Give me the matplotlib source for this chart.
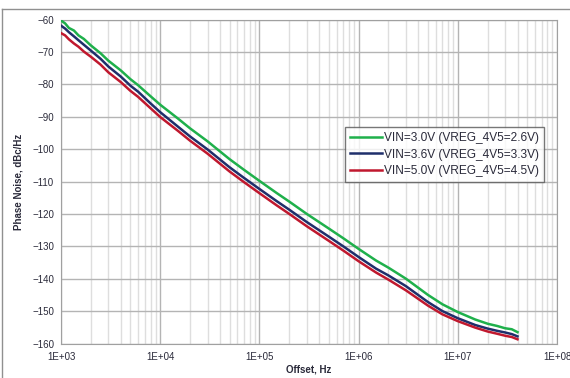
import numpy as np
import matplotlib
matplotlib.use("Agg")
import matplotlib.pyplot as plt
from matplotlib.ticker import FixedLocator, FuncFormatter, LogLocator, NullFormatter
from matplotlib.lines import Line2D

plt.rcParams['font.family'] = ['Liberation Sans', 'DejaVu Sans']

# Offset frequencies (Hz)
freq = [1e3, 1.1e3, 1.2e3, 1.35e3, 1.5e3, 1.7e3, 2e3, 2.5e3, 3e3, 4e3, 5e3, 6e3, 8e3,
        1e4, 1.5e4, 2e4, 3e4, 5e4, 7e4,
        1e5, 1.5e5, 2e5, 3e5, 5e5, 7e5,
        1e6, 1.5e6, 2e6, 3e6, 5e6, 7e6,
        1e7, 1.5e7, 2e7, 2.5e7, 3e7, 3.5e7, 4e7]

# Phase noise (dBc/Hz)
pn_3v0 = [-60.3, -61.2, -62.6, -63.4, -64.9, -66.0, -68.0, -70.4, -72.7, -75.7, -78.4, -80.3, -83.7,
          -86.3, -90.5, -93.6, -97.6, -103.1, -106.4,
          -109.8, -113.6, -116.2, -120.0, -124.5, -127.5,
          -130.8, -134.4, -136.6, -140.0, -145.0, -147.9,
          -150.3, -152.6, -153.9, -154.6, -155.3, -155.6, -156.5]
pn_3v6 = [-61.9, -62.8, -63.9, -65.2, -66.4, -67.8, -69.6, -72.1, -74.5, -77.6, -80.4, -82.3, -85.9,
          -88.6, -93.0, -96.1, -100.1, -105.6, -108.9,
          -112.3, -116.1, -118.7, -122.5, -127.0, -130.0,
          -133.3, -136.9, -139.0, -142.3, -147.2, -150.0,
          -152.2, -154.3, -155.4, -156.1, -156.6, -157.1, -157.8]
pn_5v0 = [-64.2, -64.9, -66.1, -67.4, -68.4, -69.9, -71.5, -73.9, -76.3, -79.3, -82.0, -83.9, -87.4,
          -90.1, -94.3, -97.4, -101.4, -106.9, -110.2,
          -113.6, -117.4, -120.0, -123.8, -128.3, -131.3,
          -134.6, -138.1, -140.3, -143.6, -148.3, -151.0,
          -153.1, -155.1, -156.3, -157.0, -157.6, -158.0, -158.7]

labels = ["VIN=3.0V (VREG_4V5=2.6V)",
          "VIN=3.6V (VREG_4V5=3.3V)",
          "VIN=5.0V (VREG_4V5=4.5V)"]
colors = ["#1fb04b", "#1f2f6b", "#c0182e"]

fig = plt.figure(figsize=(5.7, 3.78), dpi=100)
ax = fig.add_axes([61 / 570, 1 - 343.5 / 378, 496 / 570, 324 / 378])

for y, lab, c in zip([pn_3v0, pn_3v6, pn_5v0], labels, colors):
    ax.plot(freq, y, color=c, lw=1.8, label=lab, zorder=3)

ax.set_xscale('log')
ax.set_xlim(1e3, 1e8)
ax.set_ylim(-160, -60)
ax.yaxis.set_major_locator(FixedLocator(np.arange(-160, -59, 10)))
ax.xaxis.set_major_locator(LogLocator(base=10, numticks=10))
ax.xaxis.set_minor_locator(LogLocator(base=10, subs=np.arange(2, 10), numticks=20))
ax.xaxis.set_minor_formatter(NullFormatter())
ax.xaxis.set_major_formatter(FuncFormatter(lambda v, p: "1E+%02d" % int(round(np.log10(v)))))

ax.grid(True, which='major', color='#b4b4b4', lw=1.0, zorder=0)
ax.grid(True, which='minor', axis='x', color='#dedede', lw=1.0, zorder=0)
for s in ax.spines.values():
    s.set_color('#a0a0a0')
ax.tick_params(which='both', length=0, labelsize=7, colors='#2a2a3a', pad=5)
ax.tick_params(axis='x', pad=6)

ax.set_ylabel("Phase Noise, dBc/Hz", fontsize=7, fontweight='bold', color='#2a2a3a', labelpad=6)
ax.set_xlabel("Offset, Hz", fontsize=7, fontweight='bold', color='#2a2a3a', labelpad=2)

leg = ax.legend(loc='upper left', bbox_to_anchor=((345 - 61) / 496, 1 - (127 - 19.5) / 324),
                fontsize=8.6, frameon=True, fancybox=False, handlelength=2.7,
                handletextpad=0.15, borderpad=0.4, labelspacing=0.4, borderaxespad=0)
leg.get_frame().set_edgecolor('#555555')
leg.get_frame().set_linewidth(1.0)
for t in leg.get_texts():
    t.set_color('#2a2a3a')

# outer chart border
fig.add_artist(Line2D([1.5 / 570, 1.5 / 570], [0, 1 - 9 / 378], color='#909090', lw=1))
fig.add_artist(Line2D([1.5 / 570, 1], [1 - 9 / 378, 1 - 9 / 378], color='#909090', lw=1))

fig.savefig("out.png", dpi=100)
